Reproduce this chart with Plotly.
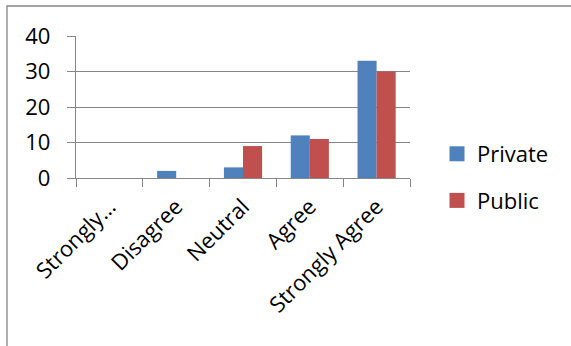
import plotly.graph_objects as go

# Survey responses by school type
categories = ["Strongly Disagree", "Disagree", "Neutral", "Agree", "Strongly Agree"]
tick_labels = ["Strongly…", "Disagree", "Neutral", "Agree", "Strongly Agree"]
private_counts = [0, 2, 3, 12, 33]
public_counts = [0, 0, 9, 11, 30]

BLUE = "#4F81BD"
RED = "#C0504D"
GRID = "#868686"
FONT = "Open Sans"

fig = go.Figure()
fig.add_trace(go.Bar(x=categories, y=private_counts, name="Private",
                     marker=dict(color=BLUE, line=dict(width=0)), showlegend=False))
fig.add_trace(go.Bar(x=categories, y=public_counts, name="Public",
                     marker=dict(color=RED, line=dict(width=0)), showlegend=False))

# Legend entries with larger square swatches
for name, color, grp in [("Private", BLUE, "a"), ("Public", RED, "b")]:
    fig.add_trace(go.Scatter(x=[None], y=[None], mode="markers", name=name,
                             legendgroup=grp,
                             marker=dict(symbol="square", size=15, color=color)))

W, H = 571, 346
L, R, T, B = 76, 161, 36, 168
pw, ph = W - L - R, H - T - B

def px_x(x):
    return (x - L) / pw

def px_y(y):
    return (H - B - y) / ph

fig.update_layout(
    width=W, height=H,
    margin=dict(l=L, r=R, t=T, b=B, pad=0),
    paper_bgcolor="white", plot_bgcolor="white",
    font=dict(family=FONT, size=22, color="#000000"),
    barmode="group", bargap=0.4286, bargroupgap=0,
    showlegend=True,
    legend=dict(x=px_x(437), y=px_y(133), xanchor="left", yanchor="top",
                bgcolor="rgba(0,0,0,0)", font=dict(size=22),
                tracegroupgap=15, itemsizing="trace"),
    xaxis=dict(type="category", tickmode="array", tickvals=categories,
               ticktext=tick_labels, tickangle=-45,
               showline=True, linecolor=GRID, linewidth=1.3,
               ticks="outside", ticklen=8, tickwidth=1.3, tickcolor=GRID,
               tickson="boundaries", showgrid=False, zeroline=False,
               ticklabelstandoff=6),
    yaxis=dict(range=[0, 40], dtick=10, showline=True, linecolor=GRID,
               linewidth=1.3, ticks="outside", ticklen=8, tickwidth=1.3,
               tickcolor=GRID, showgrid=True, gridcolor=GRID, gridwidth=1.3,
               zeroline=False, ticklabelstandoff=12),
    shapes=[dict(type="rect", xref="paper", yref="paper",
                 x0=px_x(7), x1=px_x(590), y0=px_y(360), y1=px_y(6),
                 line=dict(color=GRID, width=1.3), layer="below")],
)

fig.write_html("out.html")
